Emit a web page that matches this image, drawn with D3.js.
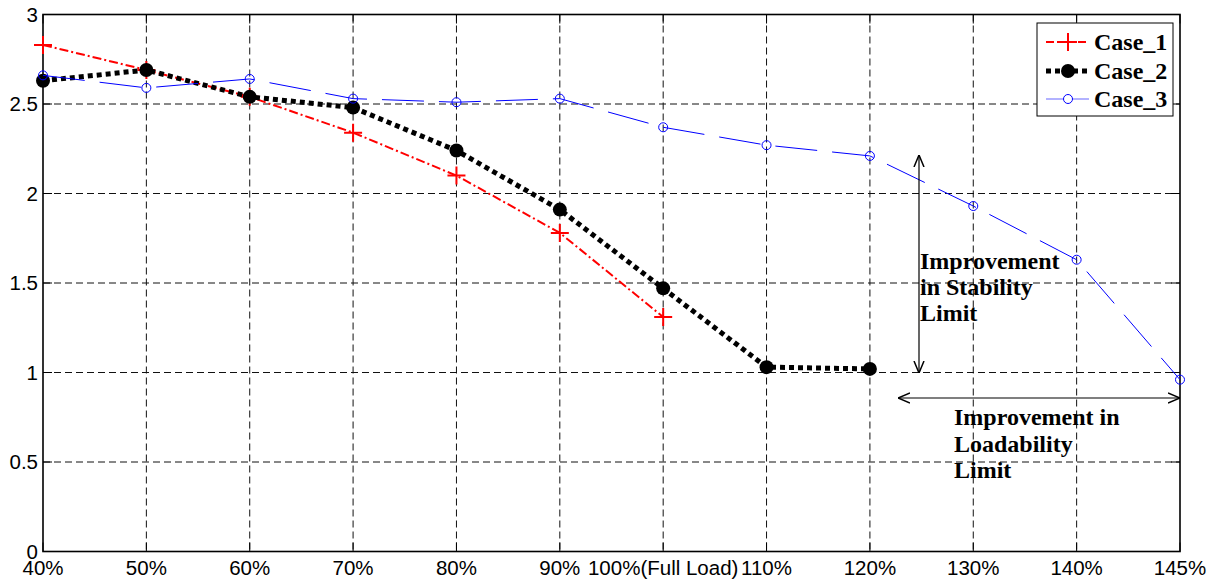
<!DOCTYPE html>
<html>
<head>
<script src="https://d3js.org/d3.v7.min.js"></script>
<style>
body { margin: 0; background: #fff; }
.tick-label { font-family: "Liberation Sans", Arial, sans-serif; font-size: 20.5px; fill: #000; }
.note { font-family: "Liberation Serif", "Times New Roman", serif; font-weight: bold; font-size: 24px; fill: #000; }
</style>
</head>
<body>
<svg id="chart" width="1221" height="582"></svg>
<script>
// load levels along the x axis
var loads = ["40%","50%","60%","70%","80%","90%","100%(Full Load)","110%","120%","130%","140%","145%"]
var yTicks = [0, 0.5, 1, 1.5, 2, 2.5, 3]
var case1 = [2.83, 2.69, 2.54, 2.34, 2.10, 1.78, 1.31]
var case2 = [2.63, 2.69, 2.54, 2.48, 2.24, 1.91, 1.47, 1.03, 1.02]
var case3 = [2.66, 2.59, 2.64, 2.53, 2.51, 2.53, 2.37, 2.27, 2.21, 1.93, 1.63, 0.96]

var svg = d3.select("#chart")
var pL = 43, pR = 1180, pT = 14.5, pB = 551.5

var x = d3.scalePoint().domain(loads).range([pL, pR])
var y = d3.scaleLinear().domain([0, 3]).range([pB, pT])

// grid
var grid = svg.append("g").attr("stroke", "#111").attr("stroke-width", 1).attr("stroke-dasharray", "7,4")
grid.selectAll(".gx").data(loads.slice(1, -1)).enter().append("line")
  .attr("x1", d => x(d)).attr("x2", d => x(d)).attr("y1", pT).attr("y2", pB)
grid.selectAll(".gy").data(yTicks.slice(1, -1)).enter().append("line")
  .attr("x1", pL).attr("x2", pR).attr("y1", d => y(d)).attr("y2", d => y(d))

// inward ticks on all four sides
var tk = svg.append("g").attr("stroke", "#000").attr("stroke-width", 1)
loads.forEach(function(d){
  tk.append("line").attr("x1", x(d)).attr("x2", x(d)).attr("y1", pB).attr("y2", pB - 9)
  tk.append("line").attr("x1", x(d)).attr("x2", x(d)).attr("y1", pT).attr("y2", pT + 9)
})
yTicks.forEach(function(d){
  tk.append("line").attr("x1", pL).attr("x2", pL + 9).attr("y1", y(d)).attr("y2", y(d))
  tk.append("line").attr("x1", pR).attr("x2", pR - 9).attr("y1", y(d)).attr("y2", y(d))
})

// box
svg.append("rect").attr("x", pL).attr("y", pT).attr("width", pR - pL).attr("height", pB - pT)
  .attr("fill", "none").attr("stroke", "#000").attr("stroke-width", 1.6)

// tick labels
svg.append("g").selectAll("text").data(yTicks).enter().append("text")
  .attr("class", "tick-label").attr("x", 38).attr("y", d => y(d)).attr("dy", "0.35em")
  .attr("text-anchor", "end").text(d => d)
svg.append("g").selectAll("text").data(loads).enter().append("text")
  .attr("class", "tick-label").attr("x", d => x(d)).attr("y", 575)
  .attr("text-anchor", "middle").text(d => d)

// series
var line = d3.line().x((d, i) => x(loads[i])).y(d => y(d))

svg.append("path").datum(case1).attr("d", line).attr("fill", "none")
  .attr("stroke", "#ff0000").attr("stroke-width", 2).attr("stroke-dasharray", "9,3,2,3")
svg.append("g").selectAll("path").data(case1).enter().append("path")
  .attr("d", (d, i) => { var cx = x(loads[i]), cy = y(d); return "M" + (cx - 9) + "," + cy + "H" + (cx + 9) + "M" + cx + "," + (cy - 9) + "V" + (cy + 9) })
  .attr("stroke", "#ff0000").attr("stroke-width", 2)

svg.append("path").datum(case2).attr("d", line).attr("fill", "none")
  .attr("stroke", "#000").attr("stroke-width", 5).attr("stroke-dasharray", "5,4")
svg.append("g").selectAll("circle").data(case2).enter().append("circle")
  .attr("cx", (d, i) => x(loads[i])).attr("cy", d => y(d)).attr("r", 7).attr("fill", "#000")

svg.append("path").datum(case3).attr("d", line).attr("fill", "none")
  .attr("stroke", "#0000ff").attr("stroke-width", 1).attr("stroke-dasharray", "42,15")
svg.append("g").selectAll("circle").data(case3).enter().append("circle")
  .attr("cx", (d, i) => x(loads[i])).attr("cy", d => y(d)).attr("r", 4.5)
  .attr("fill", "none").attr("stroke", "#0000ff").attr("stroke-width", 1)

// legend
var lg = svg.append("g")
lg.append("rect").attr("x", 1037).attr("y", 23).attr("width", 136).attr("height", 93)
  .attr("fill", "#fff").attr("stroke", "#000").attr("stroke-width", 1)
var rows = [42, 71, 99]
lg.append("line").attr("x1", 1046).attr("x2", 1089).attr("y1", rows[0]).attr("y2", rows[0])
  .attr("stroke", "#ff0000").attr("stroke-width", 2).attr("stroke-dasharray", "8,3,2,3")
lg.append("path").attr("d", "M1059," + rows[0] + "H1077M1068," + (rows[0] - 9) + "V" + (rows[0] + 9))
  .attr("stroke", "#ff0000").attr("stroke-width", 2)
lg.append("line").attr("x1", 1046).attr("x2", 1089).attr("y1", rows[1]).attr("y2", rows[1])
  .attr("stroke", "#000").attr("stroke-width", 5).attr("stroke-dasharray", "5,4")
lg.append("circle").attr("cx", 1068).attr("cy", rows[1]).attr("r", 7).attr("fill", "#000")
lg.append("line").attr("x1", 1046).attr("x2", 1089).attr("y1", rows[2]).attr("y2", rows[2])
  .attr("stroke", "#6666ff").attr("stroke-width", 1.2)
lg.append("circle").attr("cx", 1068).attr("cy", rows[2]).attr("r", 4.5)
  .attr("fill", "#fff").attr("stroke", "#0000ff")
lg.selectAll("text").data(["Case_1", "Case_2", "Case_3"]).enter().append("text")
  .attr("class", "note").attr("x", 1094).attr("y", (d, i) => rows[i]).attr("dy", "0.33em").text(d => d)

// annotation arrows
svg.append("defs").append("marker").attr("id", "arr").attr("viewBox", "0 -6 12 12")
  .attr("refX", 12).attr("refY", 0).attr("markerWidth", 12).attr("markerHeight", 12)
  .attr("markerUnits", "userSpaceOnUse").attr("orient", "auto-start-reverse")
  .append("path").attr("d", "M0,-5L12,0L0,5").attr("fill", "none").attr("stroke", "#000").attr("stroke-width", 1.5)
svg.append("line").attr("x1", 919).attr("x2", 919).attr("y1", 155).attr("y2", 373)
  .attr("stroke", "#000").attr("stroke-width", 1.2)
  .attr("marker-start", "url(#arr)").attr("marker-end", "url(#arr)")
svg.append("line").attr("x1", 898).attr("x2", 1180).attr("y1", 398).attr("y2", 398)
  .attr("stroke", "#000").attr("stroke-width", 1.2)
  .attr("marker-start", "url(#arr)").attr("marker-end", "url(#arr)")

var n1 = ["Improvement", "in Stability", "Limit"]
svg.append("g").selectAll("text").data(n1).enter().append("text")
  .attr("class", "note").attr("x", 920).attr("y", (d, i) => 269 + i * 26).text(d => d)
var n2 = ["Improvement in", "Loadability", "Limit"]
svg.append("g").selectAll("text").data(n2).enter().append("text")
  .attr("class", "note").attr("x", 954).attr("y", (d, i) => 425 + i * 26.5).text(d => d)
</script>
</body>
</html>
